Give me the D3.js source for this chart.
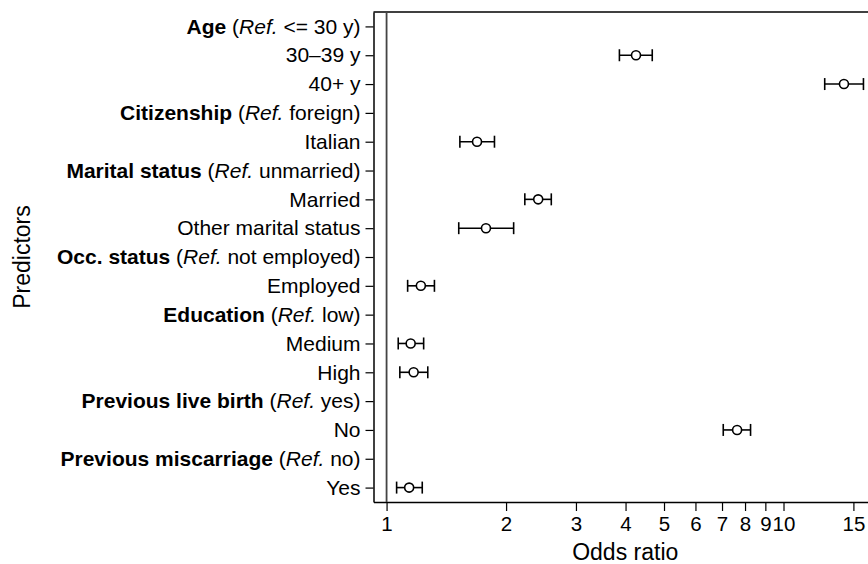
<!DOCTYPE html>
<html>
<head>
<meta charset="utf-8">
<script src="https://cdn.jsdelivr.net/npm/d3@7"></script>
<style>
  body { margin: 0; background: #fff; }
  svg { display: block; font-family: Arial, "Liberation Sans", Helvetica, sans-serif; }
</style>
</head>
<body>
<div id="chart"></div>
<script>
// predictor rows, top to bottom. group rows carry a reference label and no estimate
const predictors = [
  "Age", "30–39 y", "40+ y",
  "Citizenship", "Italian",
  "Marital status", "Married", "Other marital status",
  "Occ. status", "Employed",
  "Education", "Medium", "High",
  "Previous live birth", "No",
  "Previous miscarriage", "Yes",
];

// reference category for each group header
const groupRefs = {
  "Age": "<= 30 y",
  "Citizenship": "foreign",
  "Marital status": "unmarried",
  "Occ. status": "not employed",
  "Education": "low",
  "Previous live birth": "yes",
  "Previous miscarriage": "no",
};

// odds ratios and 95% CI
const levels = ["30–39 y", "40+ y", "Italian", "Married", "Other marital status", "Employed", "Medium", "High", "No", "Yes"];
const oddsRatio = [4.25, 14.2, 1.69, 2.41, 1.78, 1.22, 1.15, 1.17, 7.64, 1.14];
const ciLow =     [3.86, 12.7, 1.53, 2.23, 1.52, 1.13, 1.07, 1.08, 7.05, 1.06];
const ciHigh =    [4.67, 15.9, 1.87, 2.60, 2.09, 1.32, 1.24, 1.27, 8.26, 1.23];

const xTicks = [1, 2, 3, 4, 5, 6, 7, 8, 9, 10, 15];

const width = 868, height = 564;
const plot = { left: 373.5, top: 12, right: 877, bottom: 502 };

const svg = d3.select("#chart")
  .append("svg")
  .attr("width", width)
  .attr("height", height);

const x = d3.scaleLog().domain([0.927, 17.2]).range([plot.left, plot.right]);
const y = d3.scalePoint().domain(predictors).range([plot.top, plot.bottom]).padding(0.5);

// x axis
svg.append("g")
  .attr("transform", `translate(0,${plot.bottom})`)
  .call(d3.axisBottom(x).tickValues(xTicks).tickFormat(d3.format("d")).tickSize(9).tickPadding(5).tickSizeOuter(0))
  .call((g) => g.select(".domain").attr("stroke", "#000").attr("stroke-width", 1.5))
  .call((g) => g.selectAll(".tick line").attr("stroke", "#000").attr("stroke-width", 1.2))
  .call((g) => g.selectAll(".tick text").attr("font-size", 20.5).attr("font-family", null).attr("fill", "#000"));

// y axis
const yAxis = svg.append("g")
  .attr("transform", `translate(${plot.left},0)`)
  .call(d3.axisLeft(y).tickSize(8).tickPadding(5).tickSizeOuter(0))
  .call((g) => g.select(".domain").attr("stroke", "#000").attr("stroke-width", 1.5))
  .call((g) => g.selectAll(".tick line").attr("stroke", "#000").attr("stroke-width", 1.2));

// rebuild the labels so group headers get bold name + italic "Ref."
yAxis.selectAll(".tick text")
  .attr("font-size", 21)
  .attr("font-family", null)
  .attr("fill", "#000")
  .each(function (d) {
    const t = d3.select(this).text(null);
    if (groupRefs.hasOwnProperty(d)) {
      t.append("tspan").attr("font-weight", "bold").text(d);
      t.append("tspan").text(" (");
      t.append("tspan").attr("font-style", "italic").text("Ref.");
      t.append("tspan").text(" " + groupRefs[d] + ")");
    } else {
      t.text(d);
    }
  });

// top frame line
svg.append("line")
  .attr("x1", plot.left).attr("x2", width)
  .attr("y1", plot.top).attr("y2", plot.top)
  .attr("stroke", "#000").attr("stroke-width", 1.5);

// reference line at OR = 1
svg.append("line")
  .attr("x1", x(1)).attr("x2", x(1))
  .attr("y1", plot.top).attr("y2", plot.bottom)
  .attr("stroke", "#444").attr("stroke-width", 1.8);

const rows = levels.map((name, i) => ({ name: name, or: oddsRatio[i], lo: ciLow[i], hi: ciHigh[i] }));
const capH = 6;

const marks = svg.append("g").selectAll("g").data(rows).join("g")
  .attr("stroke", "#000")
  .attr("stroke-width", 1.6);

marks.append("line")
  .attr("x1", (d) => x(d.lo)).attr("x2", (d) => x(d.hi))
  .attr("y1", (d) => y(d.name)).attr("y2", (d) => y(d.name));
marks.append("line")
  .attr("x1", (d) => x(d.lo)).attr("x2", (d) => x(d.lo))
  .attr("y1", (d) => y(d.name) - capH).attr("y2", (d) => y(d.name) + capH);
marks.append("line")
  .attr("x1", (d) => x(d.hi)).attr("x2", (d) => x(d.hi))
  .attr("y1", (d) => y(d.name) - capH).attr("y2", (d) => y(d.name) + capH);
marks.append("circle")
  .attr("cx", (d) => x(d.or))
  .attr("cy", (d) => y(d.name))
  .attr("r", 4.5)
  .attr("fill", "#fff");

// axis titles
svg.append("text")
  .attr("x", (plot.left + plot.right) / 2)
  .attr("y", 560)
  .attr("text-anchor", "middle")
  .attr("font-size", 23)
  .text("Odds ratio");

svg.append("text")
  .attr("transform", `translate(30,${(plot.top + plot.bottom) / 2}) rotate(-90)`)
  .attr("text-anchor", "middle")
  .attr("font-size", 23)
  .text("Predictors");
</script>
</body>
</html>
